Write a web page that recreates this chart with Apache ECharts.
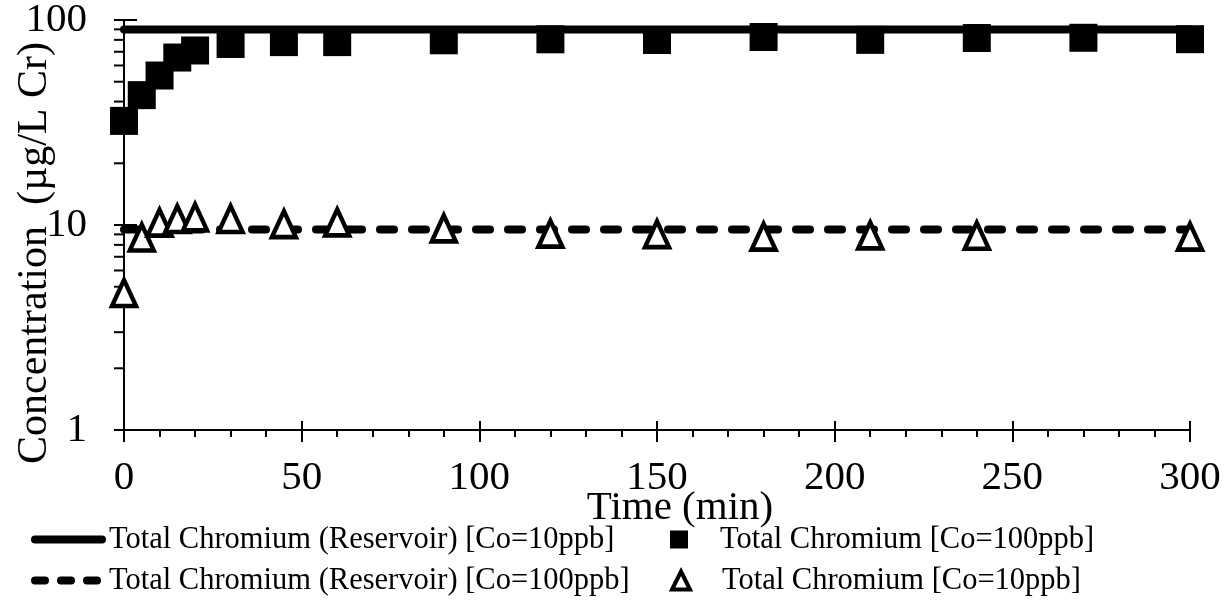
<!DOCTYPE html>
<html>
<head>
<meta charset="utf-8">
<title>Total Chromium vs Time</title>
<script src="https://cdn.jsdelivr.net/npm/echarts@6/dist/echarts.min.js"></script>
<style>
  html, body { margin: 0; padding: 0; background: #fff; }
  #chart { width: 1231px; height: 600px; }
</style>
</head>
<body>
<div id="chart"></div>
<script>
// Sampling times (min) and measured concentrations (µg/L Cr)
const squareTimes = [0, 5, 10, 15, 20, 30, 45, 60, 90, 120, 150, 180, 210, 240, 270, 300];
const squareValues = [32.2, 43, 53.6, 65.6, 71, 76.4, 78, 78, 79.6, 80.5, 79.9, 82.6, 80, 81.7, 81.9, 80.6];

const triangleTimes = [0, 5, 10, 15, 20, 30, 45, 60, 90, 120, 150, 180, 210, 240, 300];
const triangleValues = [4.66, 8.69, 10.26, 10.7, 10.9, 10.7, 10.1, 10.3, 9.63, 9.07, 9.02, 8.77, 8.9, 8.86, 8.77];

// Reservoir levels, drawn across the whole time span
const reservoirTimes = [0, 300];
const reservoirHigh = [90, 90];
const reservoirLow = [9.5, 9.5];

// Log-axis minor tick values
const yMinorTicks = [2, 3, 4, 5, 6, 7, 8, 9, 20, 30, 40, 50, 60, 70, 80, 90];

const seriesNames = [
  'Total Chromium (Reservoir) [Co=10ppb]',
  'Total Chromium (Reservoir) [Co=100ppb]',
  'Total Chromium [Co=100ppb]',
  'Total Chromium [Co=10ppb]'
];

const zip = (xs, ys) => xs.map((x, i) => [x, ys[i]]);

const FONT = '"Liberation Serif", "Times New Roman", serif';
const BLACK = '#000';

const chart = echarts.init(document.getElementById('chart'), null, { renderer: 'canvas' });

const legendText = { fontFamily: FONT, fontSize: 30.5, color: BLACK };

// line legends: a wide stroke sample, no point marker
const lineLegend = (name, top, dash) => ({
  data: [name],
  left: 31,
  top: top,
  padding: 0,
  itemWidth: 67,
  itemHeight: 18,
  selectedMode: false,
  itemStyle: { opacity: 0 },
  lineStyle: { width: 8, cap: 'round', type: dash, color: BLACK },
  textStyle: Object.assign({ padding: [0, 0, 0, 2] }, legendText)
});

// marker legends: a small symbol followed by the label
const markLegend = (name, top, icon, style) => ({
  data: [{ name: name, icon: icon }],
  left: 670,
  top: top,
  padding: 0,
  itemWidth: 18,
  itemHeight: 18,
  selectedMode: false,
  itemStyle: style,
  textStyle: Object.assign({ padding: [0, 0, 0, 27] }, legendText)
});

const option = {
  backgroundColor: '#fff',
  animation: false,
  grid: { left: 124, right: 41, top: 20, bottom: 170, outerBoundsMode: 'none', containLabel: false },
  legend: [
    lineLegend(seriesNames[0], 524, 'solid'),
    lineLegend(seriesNames[1], 565, [10, 16]),
    markLegend(seriesNames[2], 524, 'rect', { color: BLACK, borderWidth: 0 }),
    markLegend(seriesNames[3], 565, 'triangle', { color: '#fff', borderColor: BLACK, borderWidth: 4 })
  ],
  xAxis: [
    {
      type: 'value',
      min: 0,
      max: 300,
      interval: 50,
      name: 'Time (min)',
      nameLocation: 'middle',
      nameGap: 58,
      nameMoveOverlap: false,
      nameTextStyle: { fontFamily: FONT, fontSize: 41, color: BLACK, padding: [0, 0, 0, 46] },
      axisLine: { show: true, lineStyle: { color: BLACK, width: 2 } },
      axisTick: { show: true, inside: false, length: 12, lineStyle: { color: BLACK, width: 2 } },
      minorTick: { show: true, splitNumber: 5, length: 7, lineStyle: { color: BLACK, width: 2 } },
      axisLabel: { fontFamily: FONT, fontSize: 41, color: BLACK, margin: 28 },
      splitLine: { show: false }
    },
    {
      // inner half of the major ticks so they cross the axis line
      type: 'value',
      position: 'bottom',
      min: 0,
      max: 300,
      interval: 50,
      axisLine: { show: false },
      axisTick: { show: true, inside: true, length: 9, lineStyle: { color: BLACK, width: 2 } },
      axisLabel: { show: false },
      splitLine: { show: false }
    }
  ],
  yAxis: [
    {
      type: 'log',
      logBase: 10,
      min: 1,
      max: 100,
      name: 'Concentration  (µg/L Cr)',
      nameLocation: 'middle',
      nameGap: 68,
      nameMoveOverlap: false,
      nameRotate: 90,
      nameTextStyle: { fontFamily: FONT, fontSize: 42, color: BLACK, padding: [0, 56, 0, 0] },
      axisLine: { show: true, lineStyle: { color: BLACK, width: 2 } },
      axisTick: { show: true, inside: false, length: 10, lineStyle: { color: BLACK, width: 2 } },
      axisLabel: { fontFamily: FONT, fontSize: 41, color: BLACK, margin: 37 },
      splitLine: { show: false }
    },
    {
      type: 'log',
      logBase: 10,
      position: 'left',
      min: 1,
      max: 100,
      axisLine: { show: false },
      axisTick: { show: true, inside: true, length: 13, lineStyle: { color: BLACK, width: 2 } },
      axisLabel: { show: false },
      splitLine: { show: false }
    }
  ],
  series: [
    {
      name: seriesNames[0],
      type: 'line',
      data: zip(reservoirTimes, reservoirHigh),
      symbol: 'none',
      lineStyle: { color: BLACK, width: 8, cap: 'round' },
      itemStyle: { color: BLACK },
      z: 2
    },
    {
      name: seriesNames[1],
      type: 'line',
      data: zip(reservoirTimes, reservoirLow),
      symbol: 'none',
      lineStyle: { color: BLACK, width: 8, type: [14, 18], cap: 'round' },
      itemStyle: { color: BLACK },
      z: 2
    },
    {
      name: seriesNames[2],
      type: 'scatter',
      data: zip(squareTimes, squareValues),
      symbol: 'rect',
      symbolSize: 28,
      itemStyle: { color: BLACK, opacity: 1 },
      z: 3
    },
    {
      name: seriesNames[3],
      type: 'scatter',
      data: zip(triangleTimes, triangleValues),
      symbol: 'triangle',
      symbolSize: [24, 26],
      itemStyle: { color: '#fff', borderColor: BLACK, borderWidth: 4.5, opacity: 1 },
      z: 3
    },
    {
      // minor ticks of the log axis at 2..9 and 20..90
      type: 'custom',
      clip: false,
      silent: true,
      data: yMinorTicks.map(v => [0, v]),
      renderItem: function (params, api) {
        const p = api.coord([0, api.value(1)]);
        return {
          type: 'line',
          shape: { x1: p[0] - 10, y1: p[1], x2: p[0], y2: p[1] },
          style: { stroke: BLACK, lineWidth: 2 }
        };
      },
      z: 1
    }
  ]
};

chart.setOption(option);
</script>
</body>
</html>
